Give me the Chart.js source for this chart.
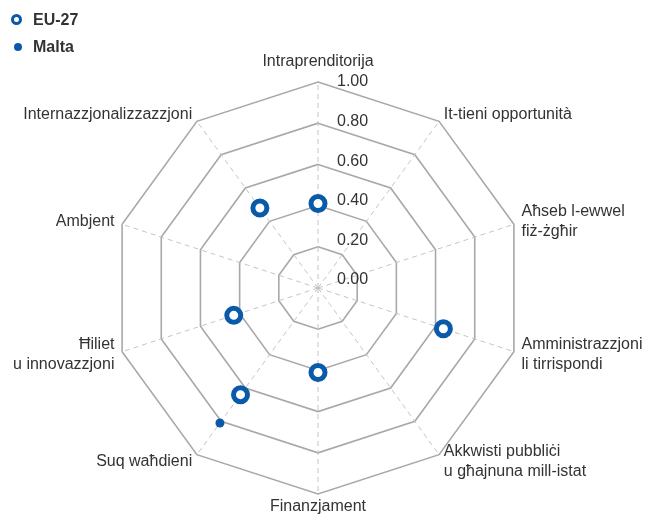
<!DOCTYPE html>
<html>
<head>
<meta charset="utf-8">
<script src="https://cdn.jsdelivr.net/npm/chart.js@4.4.1/dist/chart.umd.min.js"></script>
<style>
  html, body { margin: 0; padding: 0; background: #fff; }
  #wrap { position: relative; width: 657px; height: 517px; }
  canvas { position: absolute; left: 0; top: 0; }
  .lg { position: absolute; font: bold 16px "Liberation Sans", Arial, sans-serif; color: #333; line-height: 18px; }
  .ring { position: absolute; box-sizing: border-box; width: 11px; height: 11px; border: 3px solid #0a5aaa; border-radius: 50%; background: #fff; }
  .dot { position: absolute; width: 8px; height: 8px; border-radius: 50%; background: #0a5aaa; }
</style>
</head>
<body>
<div id="wrap">
  <canvas id="c" width="657" height="517"></canvas>
  <div class="ring" style="left:11px; top:14px;"></div>
  <div class="lg" style="left:33px; top:11px;">EU-27</div>
  <div class="dot" style="left:14px; top:43px;"></div>
  <div class="lg" style="left:33px; top:38px;">Malta</div>
</div>
<script>
const categories = [
  'Intraprenditorija',
  'It-tieni opportunità',
  ['Aħseb l-ewwel', 'fiż-żgħir'],
  ['Amministrazzjoni', 'li tirrispondi'],
  ['Akkwisti pubbliċi', 'u għajnuna mill-istat'],
  'Finanzjament',
  'Suq waħdieni',
  ['Ħiliet', 'u innovazzjoni'],
  'Ambjent',
  'Internazzjonalizzazzjoni'
];
const eu27 = [0.41, null, null, 0.64, null, 0.41, 0.64, 0.43, null, 0.48];
const malta = [null, null, null, null, null, null, 0.81, null, null, null];
const tickValues = [0, 0.2, 0.4, 0.6, 0.8, 1.0];

const BLUE = '#0a5aaa';
const FONT = '"Liberation Sans", Arial, sans-serif';

const labelPlugin = {
  id: 'customLabels',
  beforeDatasetsDraw(chart) {
    const s = chart.scales.r;
    const ctx = chart.ctx;
    ctx.save();
    ctx.fillStyle = '#333';
    ctx.textBaseline = 'middle';
    // tick labels, right of the vertical axis
    ctx.font = '16px ' + FONT;
    ctx.textAlign = 'left';
    tickValues.forEach(v => {
      const d = s.getDistanceFromCenterForValue(v);
      ctx.fillText(v.toFixed(2), s.xCenter + 19, s.yCenter - 8 - 0.961 * d);
    });
    // point labels
    ctx.font = '16px ' + FONT;
    const n = chart.data.labels.length;
    const lh = 20;
    for (let i = 0; i < n; i++) {
      const deg = Math.round(s.getIndexAngle(i) * 180 / Math.PI) % 360;
      const pad = deg === 0 ? 10 : (deg === 180 ? 13 : 8);
      const p = s.getPointPosition(i, s.drawingArea + pad);
      const lines = [].concat(chart.data.labels[i]);
      let top = deg === 0 ? p.y - lines.length * lh : p.y - lines.length * lh / 2;
      ctx.textAlign = (deg === 0 || deg === 180) ? 'center' : (deg < 180 ? 'left' : 'right');
      lines.forEach((t, k) => ctx.fillText(t, p.x, top + lh * k + lh / 2));
    }
    ctx.restore();
  }
};

new Chart(document.getElementById('c'), {
  type: 'radar',
  data: {
    labels: categories,
    datasets: [
      {
        label: 'EU-27',
        data: eu27,
        showLine: false,
        fill: false,
        borderColor: 'rgba(0,0,0,0)',
        borderWidth: 0,
        pointRadius: 7,
        pointHoverRadius: 7,
        pointBorderWidth: 5,
        pointBorderColor: BLUE,
        pointBackgroundColor: '#fff'
      },
      {
        label: 'Malta',
        data: malta,
        showLine: false,
        fill: false,
        borderColor: 'rgba(0,0,0,0)',
        borderWidth: 0,
        pointRadius: 4.5,
        pointHoverRadius: 4.5,
        pointBorderWidth: 0,
        pointBorderColor: BLUE,
        pointBackgroundColor: BLUE
      }
    ]
  },
  options: {
    responsive: false,
    animation: false,
    layout: { padding: { left: 112, right: 133, top: 82, bottom: 23 } },
    plugins: { legend: { display: false }, tooltip: { enabled: false } },
    scales: {
      r: {
        min: 0,
        max: 1,
        ticks: { display: false, stepSize: 0.2 },
        pointLabels: { display: false },
        grid: { color: '#a8a8a8', lineWidth: 1.6 },
        angleLines: { color: '#c4c4c4', lineWidth: 1, borderDash: [5, 4] }
      }
    }
  },
  plugins: [labelPlugin]
});
</script>
</body>
</html>
